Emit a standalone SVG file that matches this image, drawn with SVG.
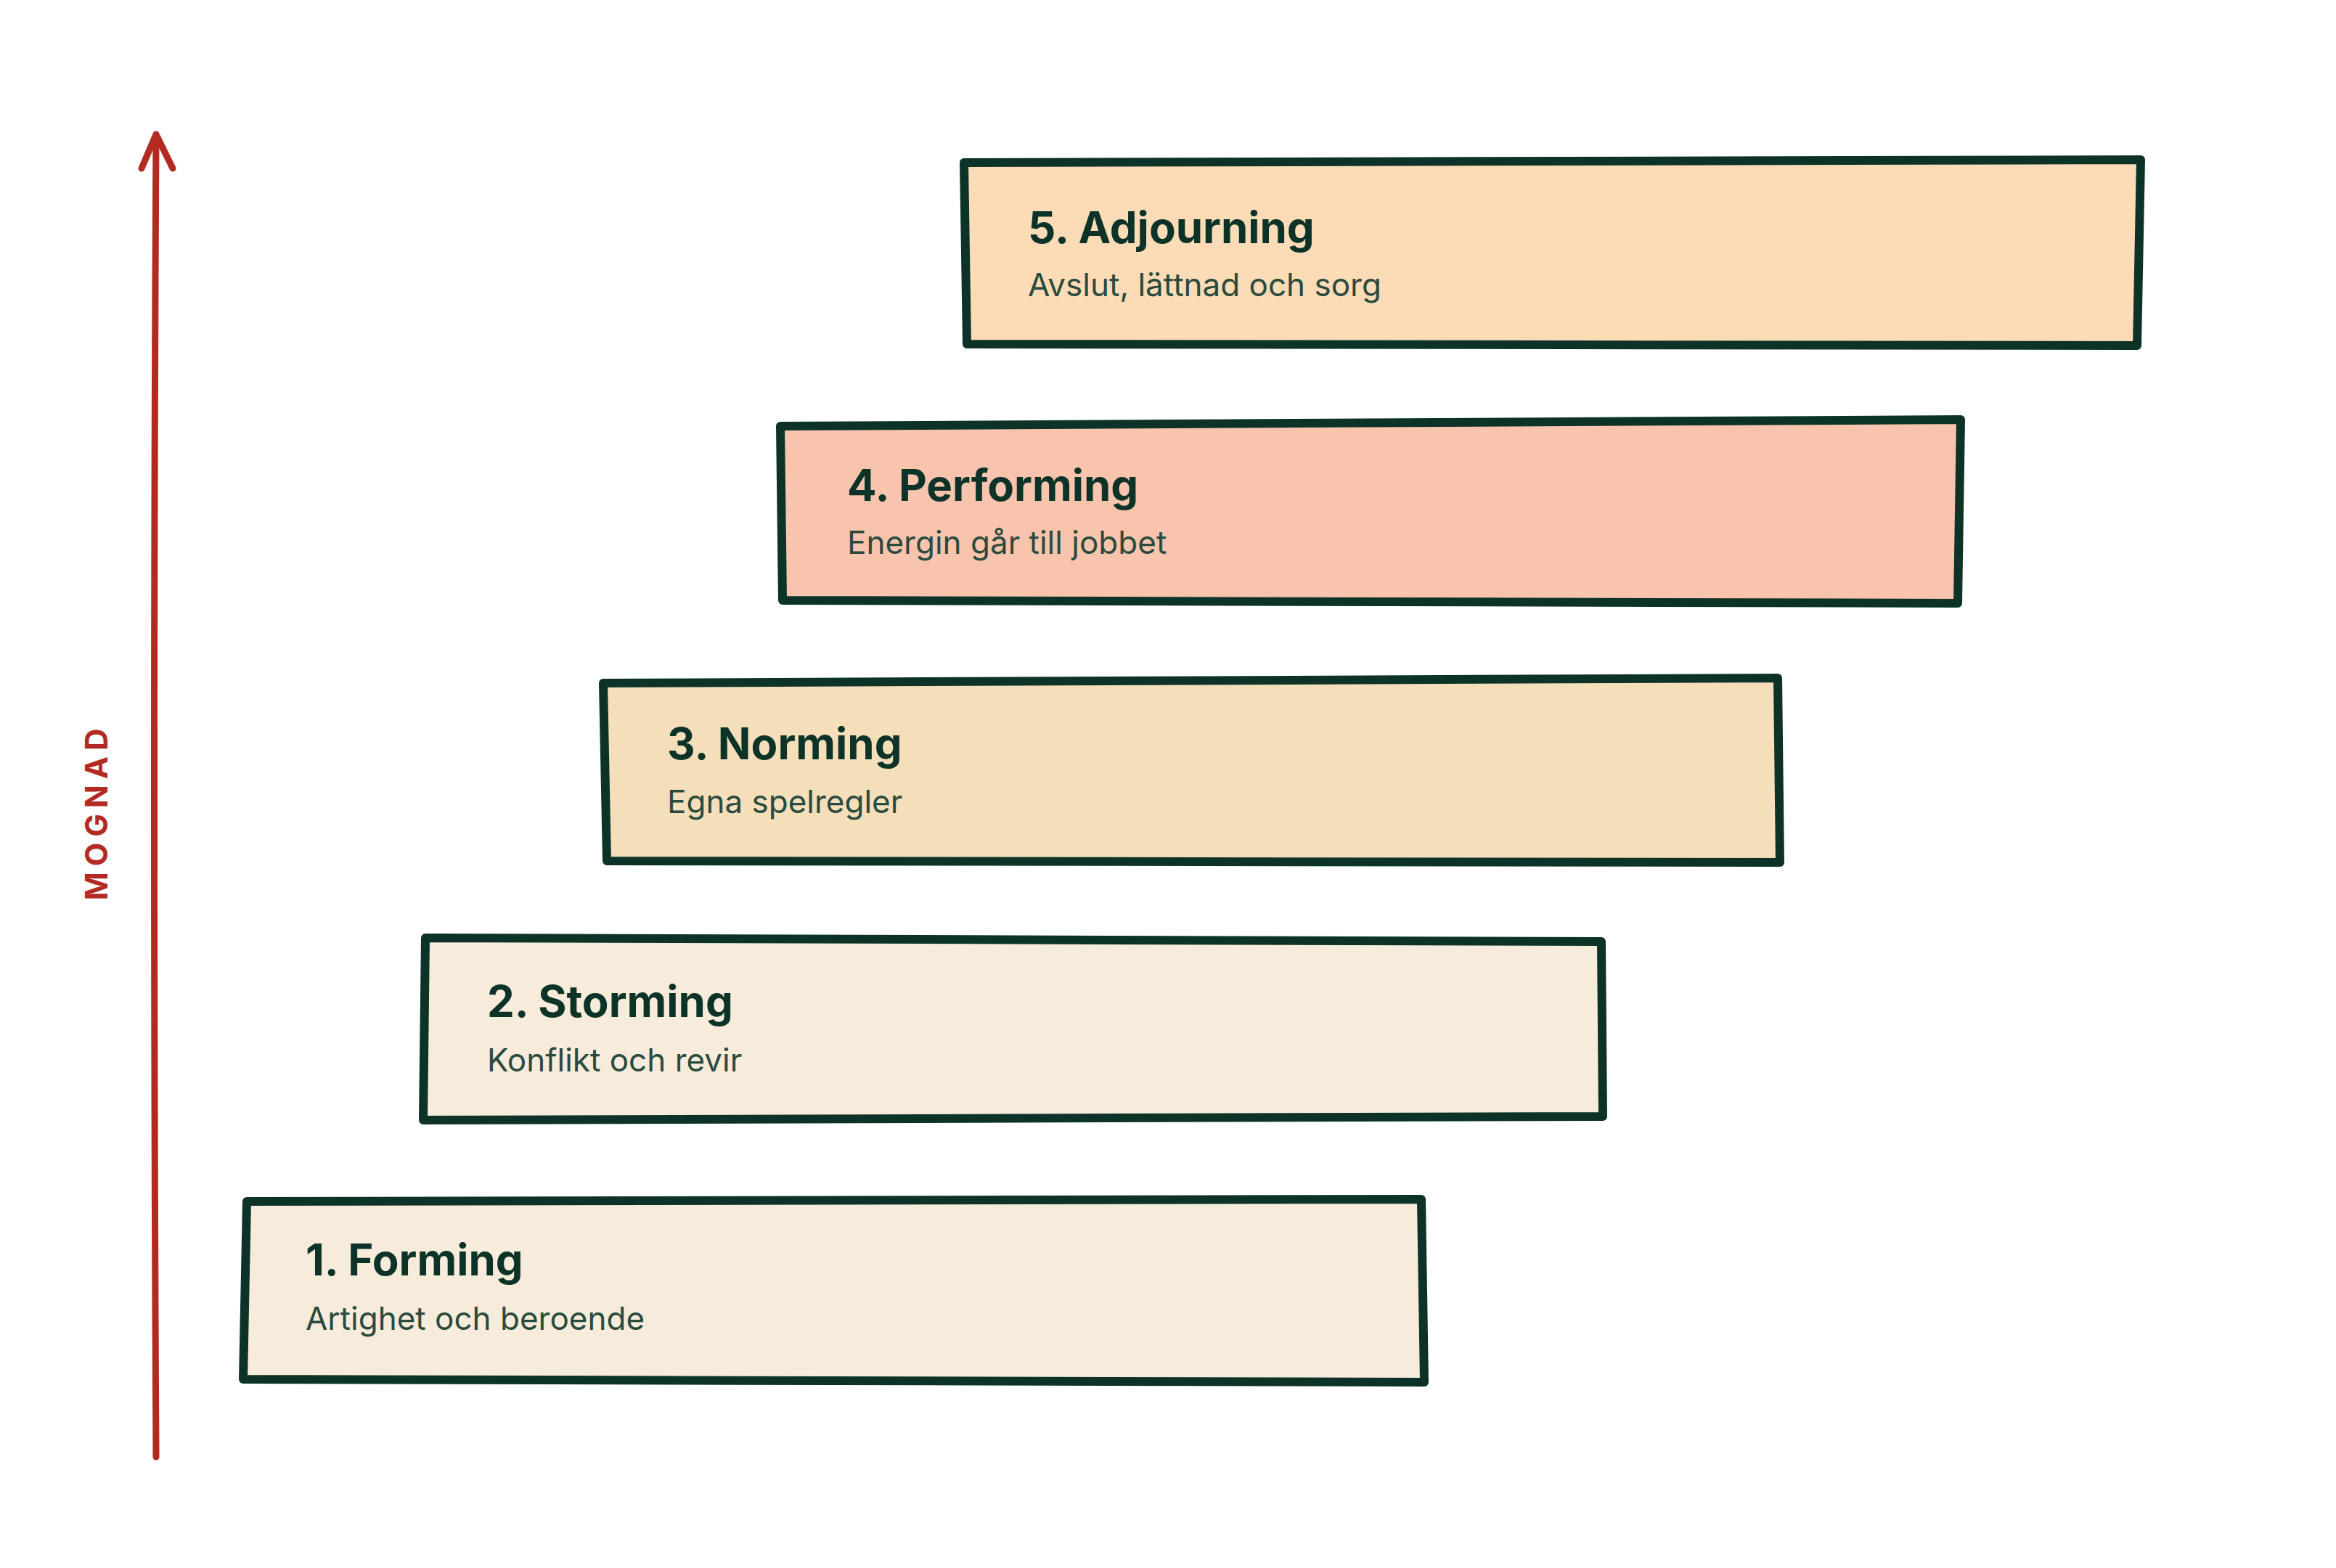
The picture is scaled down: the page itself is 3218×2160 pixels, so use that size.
<svg xmlns="http://www.w3.org/2000/svg" width="3218" height="2160" viewBox="0 0 3218 2160">
<style>
.box{stroke:#0d3328;stroke-width:12;stroke-linejoin:round;stroke-linecap:round}
.t{font-family:Inter,"Liberation Sans",sans-serif;font-weight:700;font-size:60px;fill:#0d3328}
.s{font-family:Inter,"Liberation Sans",sans-serif;font-size:44px;fill:#2a4a3e}
</style>
<rect width="3218" height="2160" fill="#fff"/>
<g id="connectors">
<path d="M215 2007 Q210 1100 215 188" fill="none" stroke="#b22a22" stroke-width="9" stroke-linecap="round"/>
<path d="M195 232 L215 185 L238 232" fill="none" stroke="#b22a22" stroke-width="9" stroke-linecap="round" stroke-linejoin="round"/>
<text x="0" y="0" transform="translate(148 1118) rotate(-90)" text-anchor="middle" font-family="Inter,'Liberation Sans',sans-serif" font-weight="700" font-size="42" letter-spacing="8" fill="#b22a22">MOGNAD</text>
</g>
<g id="n5"><path class="box" fill="#fcdcb6" d="M1328 224 L2949 220 L2944 476 L1332 474 Z"/><text class="t" x="1416" y="335">5. Adjourning</text><text class="s" x="1416" y="408">Avslut, lättnad och sorg</text></g>
<g id="n4"><path class="box" fill="#f8c4ae" d="M1075 587 L2701 578 L2697 831 L1078 827 Z"/><text class="t" x="1167" y="690">4. Performing</text><text class="s" x="1167" y="763">Energin går till jobbet</text></g>
<g id="n3"><path class="box" fill="#f5dfbb" d="M831 941 L2449 934 L2452 1188 L836 1186 Z"/><text class="t" x="919" y="1046">3. Norming</text><text class="s" x="919" y="1120">Egna spelregler</text></g>
<g id="n2"><path class="box" fill="#f7ecdb" d="M586 1292 L2206 1297 L2208 1538 L583 1543 Z"/><text class="t" x="671" y="1401">2. Storming</text><text class="s" x="671" y="1476">Konflikt och revir</text></g>
<g id="n1"><path class="box" fill="#f7ecdb" d="M340 1655 L1958 1652 L1962 1904 L335 1900 Z"/><text class="t" x="421" y="1757">1. Forming</text><text class="s" x="421" y="1832">Artighet och beroende</text></g>
</svg>
